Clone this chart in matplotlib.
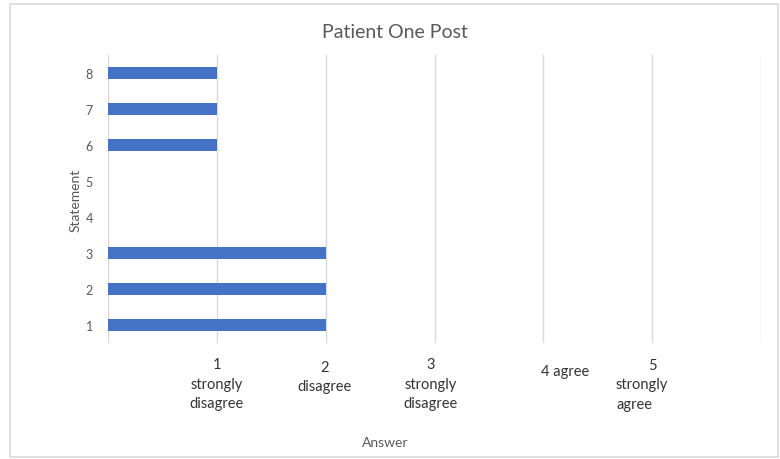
import matplotlib
matplotlib.use("Agg")
import matplotlib.pyplot as plt
from matplotlib.patches import Rectangle
from matplotlib.transforms import blended_transform_factory, offset_copy

plt.rcParams['font.family'] = ['Lato', 'DejaVu Sans']

# Survey data
statements = [1, 2, 3, 4, 5, 6, 7, 8]
answers = [2, 2, 2, 0, 0, 1, 1, 1]
answer_ticks = [1, 2, 3, 4, 5]
answer_labels = ["1\nstrongly\ndisagree", "2\ndisagree", "3\nstrongly\ndisagree",
                 "4 agree", "5\nstrongly\nagree"]

W, H = 780, 460
fig = plt.figure(figsize=(W / 100, H / 100), dpi=100)

# light chart-area border
fig.patches.append(Rectangle((10 / W, 1 - 458 / H), 768 / W, 453 / H,
                             transform=fig.transFigure, fill=False,
                             edgecolor="#D9D9D9", linewidth=1.2))

ax = fig.add_axes([108 / W, 1 - 344 / H, (761 - 108) / W, (344 - 56) / H])
ax.barh(statements, answers, height=0.35, color="#4472C4", zorder=3)

ax.set_xlim(0, 6)
ax.set_ylim(0.5, 8.5)
ax.set_xticks(range(0, 7))
ax.set_xticklabels([])
ax.set_yticks(statements)
ax.set_yticklabels([str(s) for s in statements])
ax.tick_params(axis="y", length=0, pad=11, labelsize=9, labelcolor="#595959")
ax.tick_params(axis="x", length=0)
ax.grid(axis="x", color="#D9D9D9", linewidth=1, zorder=0)
for sp in ax.spines.values():
    sp.set_visible(False)

# answer labels beneath the gridlines
trans = blended_transform_factory(ax.transData, ax.transAxes)
label_style = dict(fontsize=10.5, color="#333333", va="top")
LS = 1.52
placement = {
    1: dict(dx=0, dy=-10, ha="center", multi="center"),
    2: dict(dx=-1, dy=-12, ha="center", multi="center"),
    3: dict(dx=-3, dy=-10, ha="center", multi="center"),
    4: dict(dx=-2, dy=-15, ha="left", multi="left"),
}
for x, lab in zip(answer_ticks, answer_labels):
    if x == 5:
        first, rest = lab.split("\n", 1)
        t1 = offset_copy(trans, fig=fig, x=0, y=-11, units="points")
        ax.text(x, 0, first, transform=t1, ha="center", **label_style)
        t2 = offset_copy(trans, fig=fig, x=-26, y=-24.5, units="points")
        ax.text(x, 0, rest, transform=t2, ha="left", multialignment="left",
                linespacing=LS, **label_style)
    else:
        p = placement[x]
        t = offset_copy(trans, fig=fig, x=p["dx"], y=p["dy"], units="points")
        ax.text(x, 0, lab, transform=t, ha=p["ha"], multialignment=p["multi"],
                linespacing=LS, **label_style)

fig.text(395 / W, 1 - 32 / H, "Patient One Post", ha="center", va="center",
         fontsize=14, color="#595959")
fig.text(76 / W, 1 - 200 / H, "Statement", ha="center", va="center",
         rotation=90, fontsize=10, color="#595959")
fig.text(385 / W, 1 - 443 / H, "Answer", ha="center", va="center",
         fontsize=10, color="#595959")

fig.savefig("out.png", dpi=100, facecolor="white")
